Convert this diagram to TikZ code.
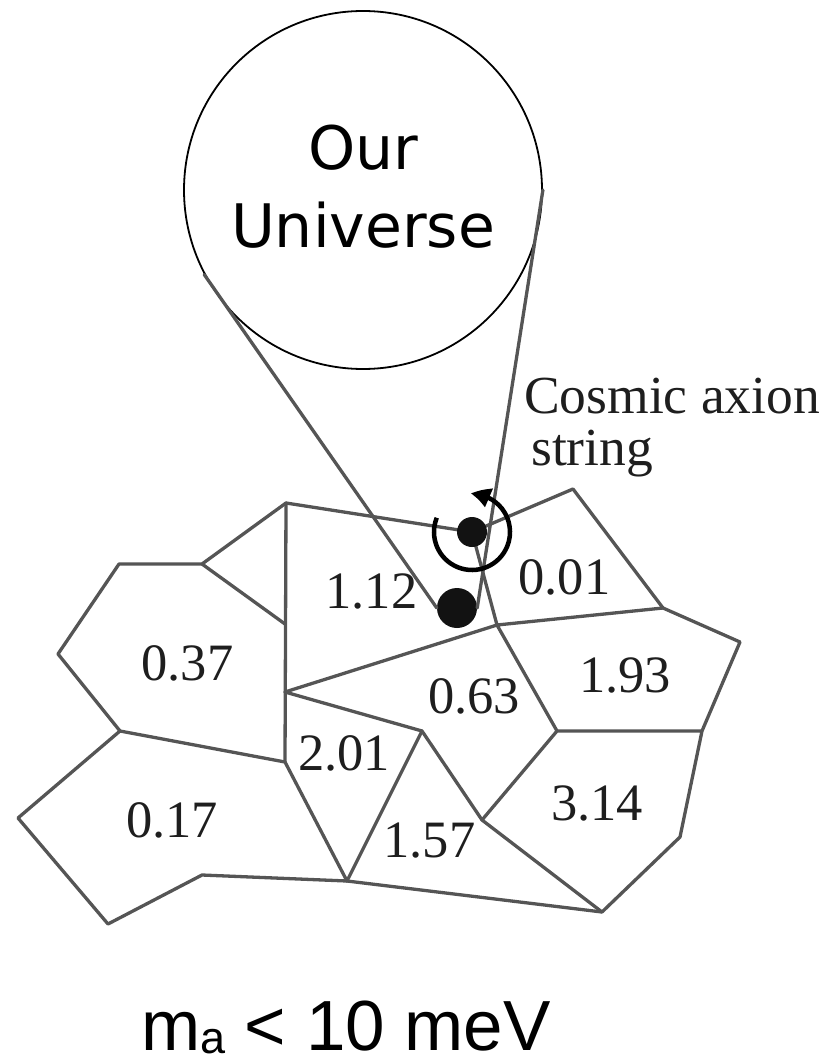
\documentclass[tikz,border=0pt]{standalone}
\usepackage{fontspec}
\setmainfont{Liberation Serif}
\newfontfamily\dejavu{DejaVu Sans}
\newfontfamily\libsans{Liberation Sans}
\usetikzlibrary{arrows.meta,bending}
\definecolor{edgegray}{HTML}{555555}
\definecolor{ink}{HTML}{1E1E1E}
\begin{document}
\begin{tikzpicture}[x=1pt,y=-1pt,
  cell/.style={draw=edgegray, line width=3.3pt, line join=round, line cap=round},
  val/.style={font=\fontsize{52.5}{52.5}\selectfont, text=ink, inner sep=0pt, anchor=center},
  lbl/.style={font=\fontsize{53.5}{53.5}\selectfont, text=ink, inner sep=0pt, anchor=base west},
  dot/.style={circle, fill=black!93, inner sep=0pt},
  spin/.style={draw=black, line width=4.5pt, -{Triangle[length=19pt,width=19pt,bend]}}]
\useasboundingbox (0,0) rectangle (828,1064);
% vertices
\coordinate (A) at (286,503);
\coordinate (B) at (202,564);
\coordinate (C) at (119,564);
\coordinate (D) at (58,654);
\coordinate (E) at (120,731);
\coordinate (F) at (285,624);
\coordinate (G) at (285,692);
\coordinate (H) at (285,762);
\coordinate (I) at (18,818);
\coordinate (J) at (108,924);
\coordinate (K) at (202,875);
\coordinate (L) at (347,881);
\coordinate (R) at (422,731);
\coordinate (P) at (482,820);
\coordinate (Q) at (557,731);
\coordinate (V) at (497,625);
\coordinate (T) at (573,489);
\coordinate (U) at (663,608);
\coordinate (W) at (740,642);
\coordinate (X) at (702,731);
\coordinate (Y) at (680,837);
\coordinate (Z) at (602,912);
\coordinate (S) at (472,532);
\coordinate (M) at (457,608);
% lattice
\draw[cell] (A) -- (S) -- (T) -- (U) -- (W) -- (X) -- (Y) -- (Z) -- (P) -- (Q) -- (X);
\draw[cell] (Q) -- (V) -- (U);
\draw[cell] (S) -- (V) -- (G);
\draw[cell] (A) -- (H);
\draw[cell] (G) -- (R) -- (P);
\draw[cell] (R) -- (L);
\draw[cell] (H) -- (L) -- (Z);
\draw[cell] (E) -- (H);
\draw[cell] (L) -- (K) -- (J) -- (I) -- (E) -- (D) -- (C) -- (B) -- (A);
\draw[cell] (B) -- (F);
% universe circle
\node[circle, draw=black, line width=1.8pt, minimum size=358pt, inner sep=0pt] (univ) at (363,190) {};
\node[anchor=base, inner sep=0pt, font=\dejavu\fontsize{60}{60}\selectfont] (our) at (363,170) {Our};
\node[anchor=base, inner sep=0pt, font=\dejavu\fontsize{60}{60}\selectfont] (universe) at (363,248) {Universe};
% dots
\node[dot, minimum size=40pt] (bdot) at (M) {};
\node[dot, minimum size=30pt] (sdot) at (S) {};
% zoom lines
\draw[cell] (univ.208) -- (bdot.west);
\draw[cell] (univ.0) -- (bdot.east);
% spin arrow
\draw[spin] ([shift={(158:38pt)}]sdot.center) arc[start angle=158, end angle=452, radius=38pt];
% values
\node[val] (v037) at (187.5,663) {0.37};
\node[val] (v017) at (172,820) {0.17};
\node[val] (v112) at (371.5,591) {1.12};
\node[val] (v201) at (344,753) {2.01};
\node[val] (v157) at (429.5,841) {1.57};
\node[val] (v063) at (474,696) {0.63};
\node[val] (v001) at (564.5,577.5) {0.01};
\node[val] (v193) at (625,675.5) {1.93};
\node[val] (v314) at (597,803) {3.14};
% labels
\node[lbl] (cos1) at (524,413) {Cosmic axion};
\node[lbl] (cos2) at (531,465) {string};
\node[anchor=base east, inner sep=0pt, text=black, font=\libsans\fontsize{71}{71}\selectfont] (mass) at (551,1050) {m\raisebox{-3pt}{\fontsize{45}{45}\selectfont a} < 10 meV};
\end{tikzpicture}
\end{document}
